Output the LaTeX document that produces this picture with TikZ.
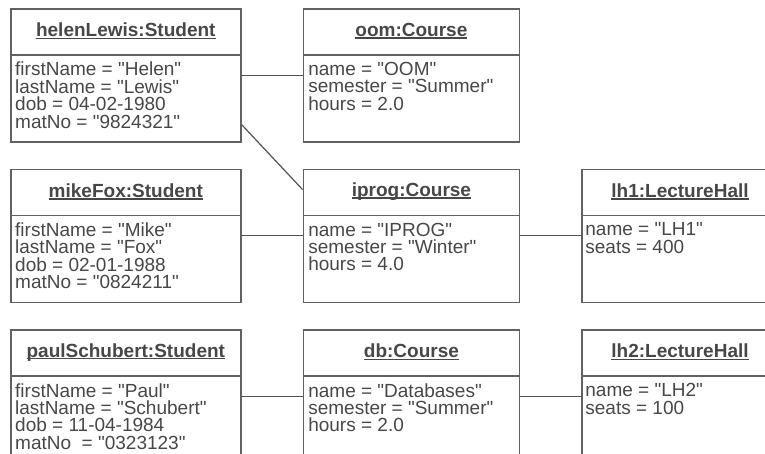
\documentclass[tikz,border=0pt]{standalone}
\usepackage{fontspec}
\setmainfont{Liberation Sans}
\usetikzlibrary{positioning}

\newcommand{\objfont}{\fontsize{19}{17.4}\selectfont}
\newcommand{\ulname}[1]{\setbox0\hbox{#1}\rlap{\rule[-2.2pt]{\wd0}{1.3pt}}\box0}
\newcommand{\qt}[1]{\textquotedbl#1\textquotedbl}

\begin{document}
\begin{tikzpicture}
	[
		x=1pt, y=-1pt,
		node distance=26pt and 61pt,
		object/.style={
				rectangle,
				minimum height=133pt,
				inner sep=0pt,
				line width=1.6pt,
				draw=black!62,
				path picture={
					\draw [black!62, line width=1.6pt]
						([yshift=-46pt]path picture bounding box.north west) --
						([yshift=-46pt]path picture bounding box.north east);
				},
			},
		student/.style={object, minimum width=230pt},
		course/.style={object, minimum width=216pt},
		hall/.style={object, minimum width=196pt},
		title/.style={
				inner sep=0pt,
				text=black!72,
				font=\objfont\bfseries,
			},
		attrs/.style={
				anchor=north west,
				align=left,
				inner sep=0pt,
				text=black!72,
				font=\objfont,
			},
		link/.style={draw=black!68, line width=1.2pt},
	]
	\useasboundingbox (0,0) rectangle (765,454);
	\clip (0,0) rectangle (765,454);

	% object boxes
	\node [student, anchor=north west] (helen) at (10,8) {};
	\node [course, right= of helen] (oom) {};
	\node [student, below= of helen] (mike) {};
	\node [course, below= of oom] (iprog) {};
	\node [hall, right= of iprog] (lh1) {};
	\node [student, below= of mike] (paul) {};
	\node [course, below= of iprog] (db) {};
	\node [hall, below= of lh1] (lh2) {};

	% names
	\node [title] (helenT) at ([yshift=-23pt]helen.north) {\ulname{helenLewis:Student}};
	\node [title] (oomT)   at ([yshift=-23pt]oom.north)   {\ulname{oom:Course}};
	\node [title] (mikeT)  at ([yshift=-23pt]mike.north)  {\ulname{mikeFox:Student}};
	\node [title] (iprogT) at ([yshift=-23pt]iprog.north) {\ulname{iprog:Course}};
	\node [title] (lh1T)   at ([yshift=-23pt]lh1.north)   {\ulname{lh1:LectureHall}};
	\node [title] (paulT)  at ([yshift=-23pt]paul.north)  {\ulname{paulSchubert:Student}};
	\node [title] (dbT)    at ([yshift=-23pt]db.north)    {\ulname{db:Course}};
	\node [title] (lh2T)   at ([yshift=-23pt]lh2.north)   {\ulname{lh2:LectureHall}};

	% attributes
	\node [attrs] (helenA) at ([xshift=5pt, yshift=-54pt]helen.north west)
		{firstName = \qt{Helen}\\ lastName = \qt{Lewis}\\ dob = 04-02-1980\\ matNo = \qt{9824321}};
	\node [attrs] (oomA) at ([xshift=5.5pt, yshift=-54pt]oom.north west)
		{name = \qt{OOM}\\ semester = \qt{Summer}\\ hours = 2.0};
	\node [attrs] (mikeA) at ([xshift=5pt, yshift=-54pt]mike.north west)
		{firstName = \qt{Mike}\\ lastName = \qt{Fox}\\ dob = 02-01-1988\\ matNo = \qt{0824211}};
	\node [attrs] (iprogA) at ([xshift=5.5pt, yshift=-54pt]iprog.north west)
		{name = \qt{IPROG}\\ semester = \qt{Winter}\\ hours = 4.0};
	\node [attrs] (lh1A) at ([xshift=4pt, yshift=-54pt]lh1.north west)
		{name = \qt{LH1}\\ seats = 400};
	\node [attrs] (paulA) at ([xshift=5pt, yshift=-54pt]paul.north west)
		{firstName = \qt{Paul}\\ lastName = \qt{Schubert}\\ dob = 11-04-1984\\ matNo~~= \qt{0323123}};
	\node [attrs] (dbA) at ([xshift=5.5pt, yshift=-54pt]db.north west)
		{name = \qt{Databases}\\ semester = \qt{Summer}\\ hours = 2.0};
	\node [attrs] (lh2A) at ([xshift=4pt, yshift=-54pt]lh2.north west)
		{name = \qt{LH2}\\ seats = 100};

	% links
	\draw [link] (helen.east) -- (oom.west);
	\draw [link] ([yshift=18pt]helen.south east) -- ([yshift=-21pt]iprog.north west);
	\draw [link] (mike.east) -- (iprog.west);
	\draw [link] (iprog.east) -- (lh1.west);
	\draw [link] (paul.east) -- (db.west);
	\draw [link] (db.east) -- (lh2.west);
\end{tikzpicture}
\end{document}
